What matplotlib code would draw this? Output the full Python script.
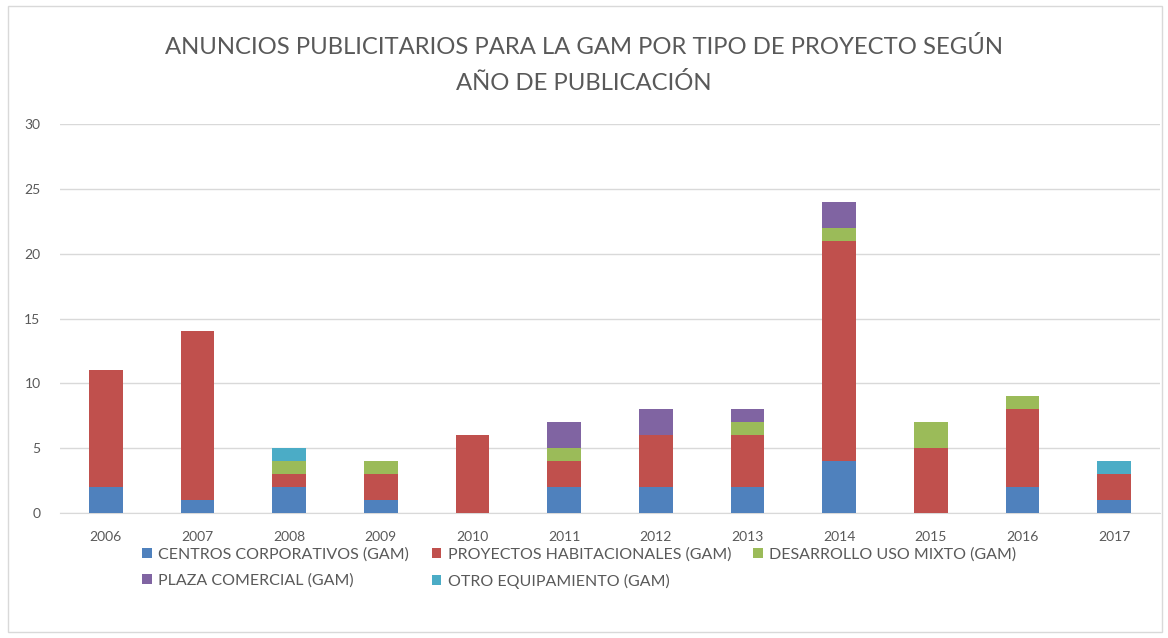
import matplotlib
matplotlib.use("Agg")
import matplotlib.pyplot as plt
from matplotlib.patches import Rectangle
import numpy as np

years = ["2006", "2007", "2008", "2009", "2010", "2011", "2012", "2013", "2014", "2015", "2016", "2017"]
centros = [2, 1, 2, 1, 0, 2, 2, 2, 4, 0, 2, 1]
habitacionales = [9, 13, 1, 2, 6, 2, 4, 4, 17, 5, 6, 2]
mixto = [0, 0, 1, 1, 0, 1, 0, 1, 1, 2, 1, 0]
plaza = [0, 0, 0, 0, 0, 2, 2, 1, 2, 0, 0, 0]
otro = [0, 0, 1, 0, 0, 0, 0, 0, 0, 0, 0, 1]

series = [
    ("CENTROS CORPORATIVOS (GAM)", centros, "#4F81BD"),
    ("PROYECTOS HABITACIONALES (GAM)", habitacionales, "#C0504D"),
    ("DESARROLLO USO MIXTO (GAM)", mixto, "#9BBB59"),
    ("PLAZA COMERCIAL (GAM)", plaza, "#8064A2"),
    ("OTRO EQUIPAMIENTO (GAM)", otro, "#4BACC6"),
]

plt.rcParams['font.family'] = ['Lato', 'DejaVu Sans']

fig = plt.figure(figsize=(11.68, 6.38), dpi=100)
ax = fig.add_axes([60/1168, 1-513/638, 1100/1168, 389/638])

x = np.arange(len(years))
bottom = np.zeros(len(years))
handles = []
for name, vals, col in series:
    v = np.array(vals, dtype=float)
    b = ax.bar(x, v, width=0.37, bottom=bottom, color=col, label=name, zorder=3)
    handles.append(b)
    bottom += v

ax.set_xlim(-0.5, len(years) - 0.5)
ax.set_ylim(0, 30)
ax.set_yticks(range(0, 31, 5))
ax.set_xticks(x)
ax.set_xticklabels(years)
ax.yaxis.grid(True, color="#D9D9D9", linewidth=1, zorder=0)
for s in ["top", "right", "left"]:
    ax.spines[s].set_visible(False)
ax.spines["bottom"].set_color("#D9D9D9")
ax.tick_params(axis="both", length=0, labelsize=10, colors="#595959")
ax.tick_params(axis="x", pad=13)
ax.tick_params(axis="y", pad=14)

fig.text(0.5, 1-65/638, "ANUNCIOS PUBLICITARIOS PARA LA GAM POR TIPO DE PROYECTO SEGÚN\nAÑO DE PUBLICACIÓN",
         ha="center", va="center", fontsize=17.2, color="#595959", linespacing=1.8)

order = [0, 3, 1, 4, 2]
leg = fig.legend([handles[i] for i in order], [series[i][0] for i in order],
                 ncol=3, loc="upper left", bbox_to_anchor=(128/1168, 1-533/638),
                 frameon=False, fontsize=11.5, handlelength=0.6, handleheight=0.6,
                 handletextpad=0.4, columnspacing=1.4, labelspacing=0.75)
for t in leg.get_texts():
    t.set_color("#595959")

fig.patches.append(Rectangle((8/1168, 6/638), 1154/1168, 626/638, transform=fig.transFigure,
                             fill=False, edgecolor="#D9D9D9", linewidth=1))

fig.savefig("out.png", dpi=100)
